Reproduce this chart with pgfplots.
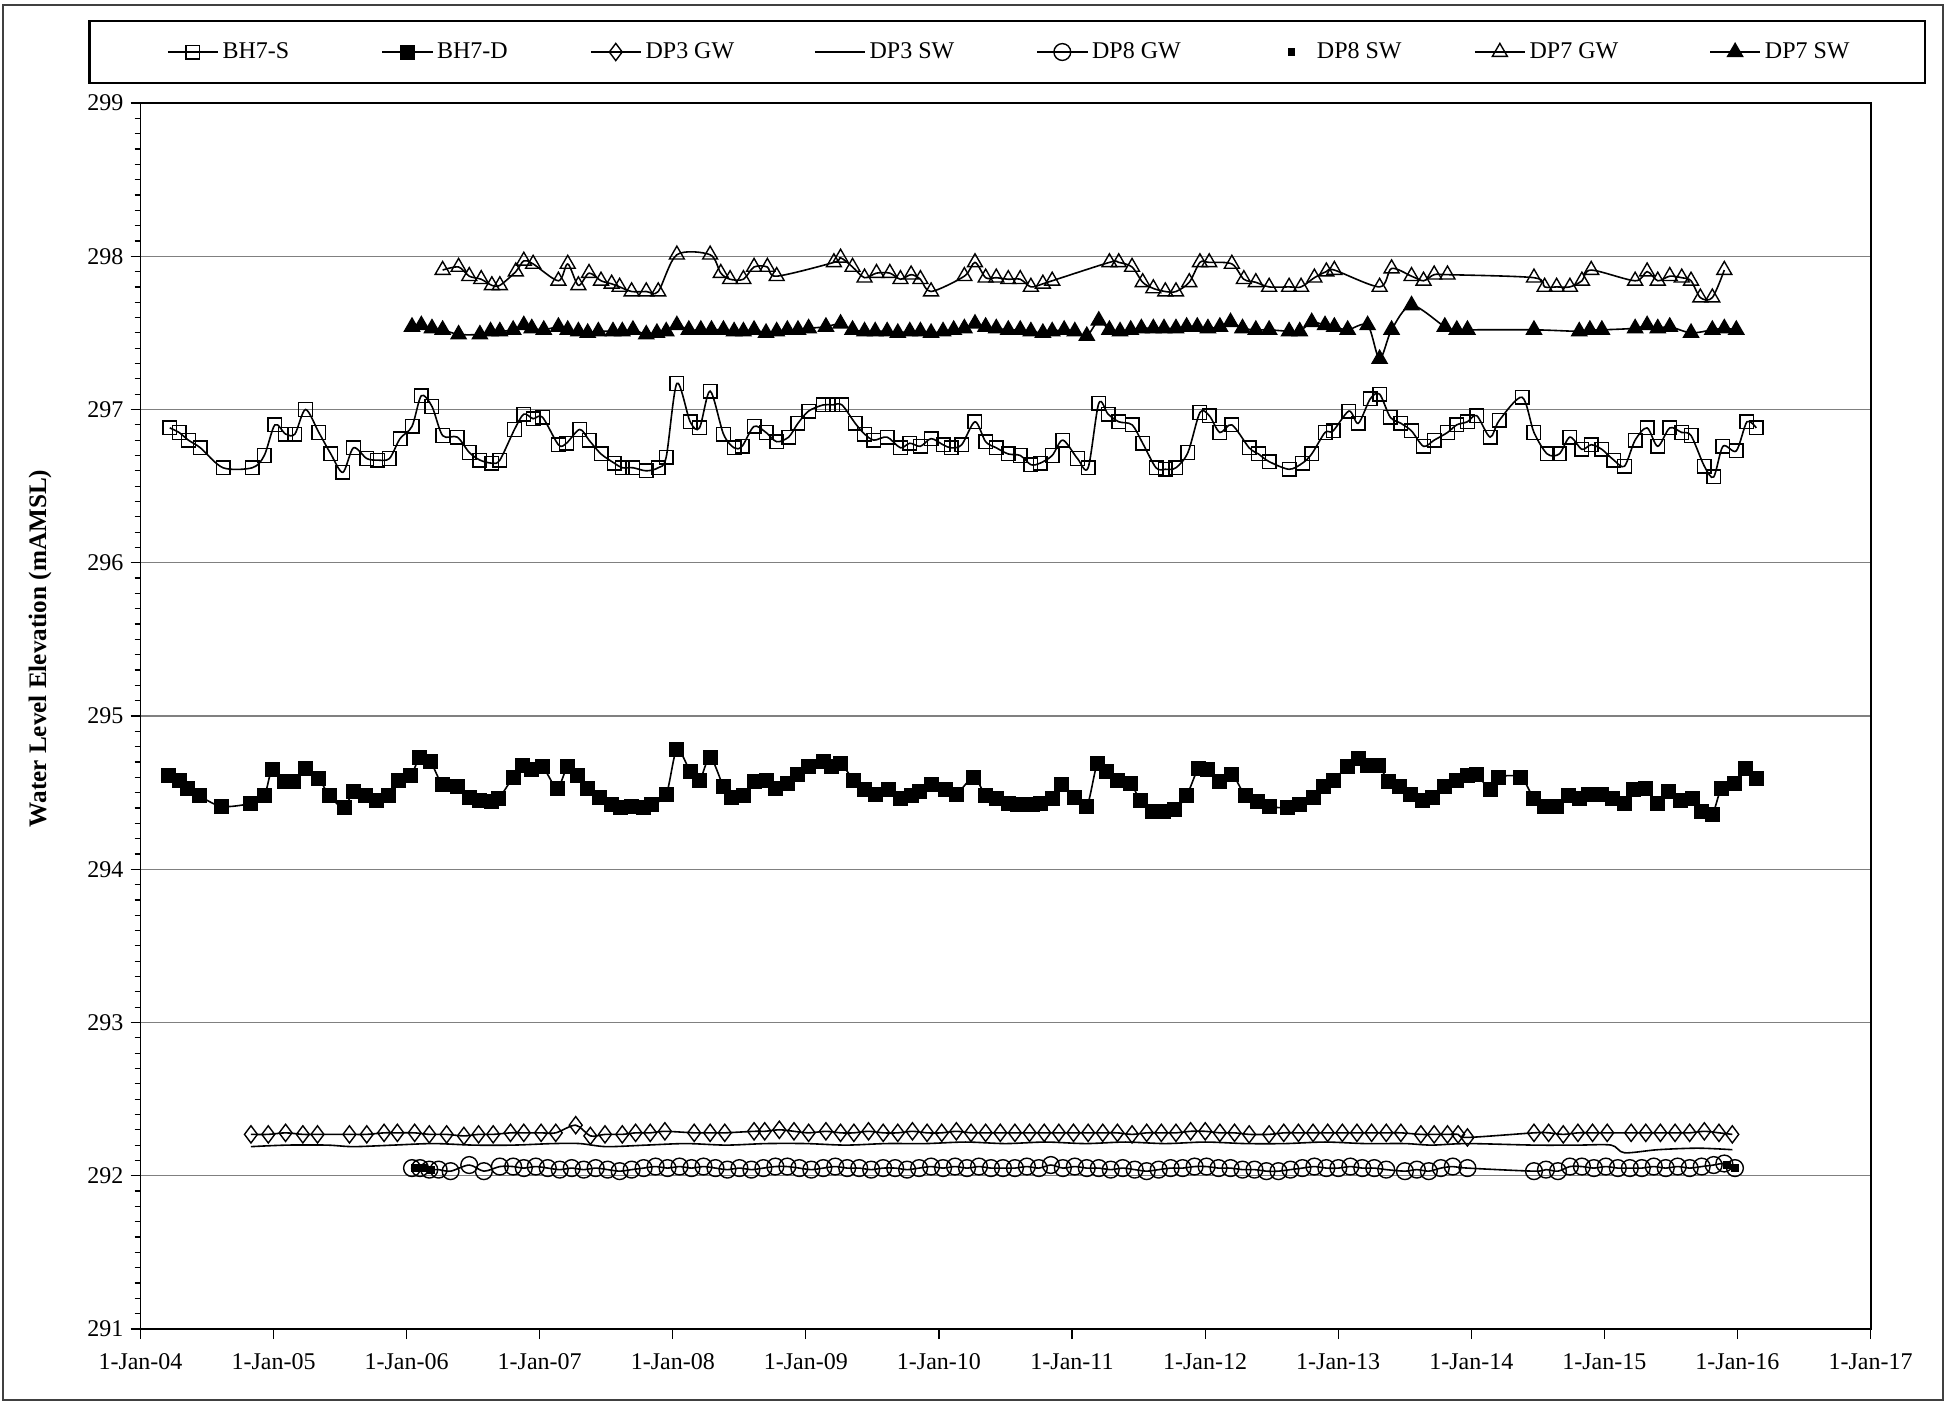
\documentclass[border=0pt]{standalone}
\usepackage{pgfplots}
\pgfplotsset{compat=1.18}
\usepackage{fontspec}
\setmainfont{Liberation Serif}
\pgfplotsset{dotlegend/.style={legend image code/.code={\path[draw=none] (0pt,0pt) -- (22.5pt,0pt); \draw[##1] plot coordinates {(11.8pt,0pt)};}}}
\begin{document}
\begin{tikzpicture}[font=\fontsize{12}{14}\selectfont]
\useasboundingbox (0,0) rectangle (974.5pt,702.5pt);
\draw[line width=0.8pt, black!75] (1.5pt,2.5pt) rectangle (971.5pt,700pt);
\draw[line width=1.4pt] (44.75pt,661pt) rectangle (962.5pt,692pt);
\begin{axis}[
  at={(70.25pt,38pt)}, anchor=south west,
  scale only axis, width=865.1pt, height=613pt,
  xmin=2004, xmax=2017, ymin=291, ymax=299,
  xtick={2004,...,2017},
  xticklabels={1-Jan-04,1-Jan-05,1-Jan-06,1-Jan-07,1-Jan-08,1-Jan-09,1-Jan-10,1-Jan-11,1-Jan-12,1-Jan-13,1-Jan-14,1-Jan-15,1-Jan-16,1-Jan-17},
  xticklabel style={yshift=-3.7pt},
  minor x tick num=11,
  ytick={291,...,299},
  minor y tick num=9,
  xtick pos=left, ytick pos=left,
  tick align=outside,
  major tick length=5pt, minor tick length=3pt,
  tick style={black, line width=0.6pt},
  ymajorgrids, grid style={gray, line width=0.6pt},
  axis line style={line width=0.8pt},
  /pgf/number format/assume math mode=true,
  /pgf/number format/1000 sep={},
  ylabel={\fontsize{12.6}{14}\selectfont\bfseries Water Level Elevation (mAMSL)},
  ylabel style={at={(axis description cs:-0.0581,0.555)}, anchor=center},
  legend columns=8,
  legend style={at={(0.0151,1.0416)}, anchor=west, draw=none, fill=none,
    inner xsep=0pt, /tikz/every even column/.append style={column sep=41pt}},
  legend image code/.code={\draw[mark repeat=2,mark phase=2,#1] plot coordinates {(0pt,0pt) (12.5pt,0pt) (25pt,0pt)};},
  every axis plot/.append style={black, line width=0.8pt, mark options={solid, line width=0.7pt}},
]
% BH7-S
\addplot[smooth, tension=0.5, mark=square, mark size=3.4pt] table {
2004.22 296.88
2004.29 296.85
2004.36 296.80
2004.45 296.75
2004.62 296.62
2004.84 296.62
2004.93 296.70
2005.01 296.90
2005.09 296.84
2005.16 296.84
2005.24 297.00
2005.34 296.85
2005.43 296.71
2005.52 296.59
2005.60 296.75
2005.70 296.68
2005.78 296.67
2005.87 296.68
2005.95 296.81
2006.04 296.89
2006.11 297.09
2006.19 297.02
2006.27 296.83
2006.38 296.82
2006.47 296.72
2006.55 296.67
2006.64 296.65
2006.70 296.67
2006.81 296.87
2006.88 296.97
2006.95 296.94
2007.02 296.95
2007.14 296.77
2007.20 296.78
2007.30 296.87
2007.37 296.80
2007.46 296.71
2007.56 296.65
2007.62 296.62
2007.70 296.62
2007.80 296.60
2007.89 296.62
2007.95 296.69
2008.03 297.17
2008.13 296.92
2008.20 296.88
2008.28 297.12
2008.38 296.84
2008.46 296.75
2008.52 296.76
2008.61 296.89
2008.70 296.85
2008.78 296.79
2008.87 296.82
2008.94 296.91
2009.02 296.99
2009.13 297.03
2009.20 297.03
2009.27 297.03
2009.37 296.91
2009.44 296.84
2009.51 296.80
2009.61 296.82
2009.71 296.75
2009.78 296.78
2009.86 296.76
2009.94 296.81
2010.03 296.77
2010.09 296.75
2010.17 296.77
2010.27 296.92
2010.35 296.79
2010.43 296.75
2010.52 296.71
2010.61 296.70
2010.69 296.64
2010.76 296.65
2010.85 296.70
2010.93 296.80
2011.04 296.68
2011.12 296.62
2011.20 297.04
2011.27 296.97
2011.35 296.92
2011.45 296.90
2011.53 296.78
2011.63 296.62
2011.70 296.61
2011.78 296.62
2011.87 296.72
2011.96 296.98
2012.03 296.96
2012.11 296.85
2012.20 296.90
2012.33 296.75
2012.40 296.71
2012.48 296.66
2012.63 296.61
2012.73 296.65
2012.80 296.71
2012.90 296.85
2012.96 296.86
2013.08 296.99
2013.15 296.91
2013.24 297.07
2013.31 297.10
2013.39 296.95
2013.47 296.91
2013.55 296.86
2013.64 296.76
2013.72 296.80
2013.82 296.85
2013.89 296.90
2013.97 296.92
2014.04 296.96
2014.14 296.82
2014.21 296.93
2014.38 297.08
2014.47 296.85
2014.57 296.71
2014.66 296.71
2014.74 296.82
2014.83 296.74
2014.90 296.77
2014.98 296.74
2015.07 296.67
2015.15 296.63
2015.23 296.80
2015.32 296.88
2015.40 296.76
2015.49 296.88
2015.58 296.85
2015.65 296.83
2015.75 296.63
2015.82 296.56
2015.89 296.76
2015.99 296.73
2016.07 296.92
2016.14 296.88
};
\addlegendentry{BH7-S\kern3.1pt}
% BH7-D
\addplot[smooth, tension=0.5, mark=square*, mark size=3.4pt] table {
2004.21 294.61
2004.29 294.58
2004.35 294.53
2004.44 294.48
2004.61 294.41
2004.83 294.43
2004.93 294.48
2004.99 294.65
2005.08 294.57
2005.15 294.57
2005.24 294.66
2005.34 294.59
2005.42 294.48
2005.53 294.40
2005.60 294.51
2005.69 294.48
2005.77 294.45
2005.86 294.48
2005.94 294.58
2006.03 294.61
2006.10 294.73
2006.18 294.70
2006.27 294.55
2006.38 294.54
2006.47 294.47
2006.55 294.45
2006.64 294.44
2006.69 294.46
2006.80 294.60
2006.87 294.68
2006.94 294.65
2007.02 294.67
2007.13 294.53
2007.21 294.67
2007.28 294.61
2007.36 294.53
2007.45 294.47
2007.54 294.42
2007.61 294.40
2007.69 294.41
2007.78 294.40
2007.84 294.42
2007.95 294.49
2008.03 294.78
2008.13 294.64
2008.20 294.58
2008.28 294.73
2008.38 294.54
2008.44 294.47
2008.53 294.48
2008.61 294.57
2008.70 294.58
2008.77 294.53
2008.86 294.56
2008.94 294.62
2009.02 294.67
2009.13 294.70
2009.19 294.67
2009.26 294.69
2009.36 294.58
2009.44 294.52
2009.52 294.49
2009.62 294.52
2009.71 294.46
2009.79 294.48
2009.85 294.51
2009.94 294.55
2010.05 294.52
2010.13 294.49
2010.26 294.60
2010.35 294.48
2010.43 294.46
2010.52 294.43
2010.59 294.42
2010.70 294.42
2010.76 294.43
2010.85 294.46
2010.92 294.55
2011.02 294.47
2011.11 294.41
2011.19 294.69
2011.26 294.64
2011.34 294.58
2011.44 294.56
2011.51 294.45
2011.60 294.38
2011.69 294.38
2011.77 294.39
2011.86 294.48
2011.95 294.66
2012.02 294.65
2012.11 294.57
2012.20 294.62
2012.30 294.48
2012.39 294.44
2012.48 294.41
2012.62 294.40
2012.71 294.42
2012.81 294.47
2012.89 294.54
2012.96 294.58
2013.07 294.67
2013.15 294.72
2013.22 294.68
2013.30 294.68
2013.38 294.57
2013.46 294.54
2013.54 294.49
2013.63 294.45
2013.71 294.47
2013.80 294.54
2013.89 294.58
2013.97 294.61
2014.04 294.62
2014.14 294.52
2014.20 294.60
2014.37 294.60
2014.47 294.46
2014.55 294.41
2014.64 294.41
2014.73 294.48
2014.81 294.46
2014.88 294.49
2014.98 294.49
2015.06 294.46
2015.15 294.43
2015.22 294.52
2015.31 294.53
2015.40 294.43
2015.48 294.51
2015.57 294.45
2015.66 294.46
2015.73 294.38
2015.81 294.36
2015.88 294.53
2015.98 294.56
2016.06 294.66
2016.14 294.59
};
\addlegendentry{BH7-D\kern-1.9pt}
% DP3 GW
\addplot[smooth, tension=0.5, mark=diamond, mark size=4.3pt] table {
2004.83 292.27
2004.96 292.27
2005.09 292.28
2005.22 292.27
2005.33 292.27
2005.57 292.27
2005.70 292.27
2005.83 292.28
2005.93 292.28
2006.06 292.28
2006.17 292.27
2006.30 292.27
2006.43 292.26
2006.54 292.27
2006.65 292.27
2006.78 292.28
2006.88 292.28
2007.01 292.28
2007.12 292.28
2007.27 292.33
2007.38 292.26
2007.49 292.27
2007.62 292.27
2007.72 292.28
2007.83 292.28
2007.94 292.29
2008.16 292.28
2008.28 292.28
2008.39 292.28
2008.61 292.29
2008.69 292.29
2008.80 292.30
2008.91 292.29
2009.02 292.28
2009.15 292.29
2009.26 292.28
2009.36 292.28
2009.47 292.29
2009.58 292.28
2009.69 292.28
2009.80 292.29
2009.91 292.28
2010.02 292.28
2010.13 292.29
2010.24 292.28
2010.35 292.28
2010.46 292.28
2010.57 292.28
2010.68 292.28
2010.79 292.28
2010.90 292.28
2011.01 292.28
2011.12 292.28
2011.23 292.28
2011.34 292.28
2011.45 292.27
2011.56 292.28
2011.67 292.28
2011.78 292.28
2011.89 292.29
2012.00 292.29
2012.11 292.28
2012.22 292.28
2012.33 292.27
2012.48 292.27
2012.59 292.28
2012.70 292.28
2012.81 292.28
2012.92 292.28
2013.03 292.28
2013.14 292.28
2013.25 292.28
2013.36 292.28
2013.47 292.28
2013.62 292.27
2013.72 292.27
2013.82 292.27
2013.90 292.27
2013.97 292.25
2014.47 292.28
2014.58 292.28
2014.69 292.27
2014.80 292.28
2014.91 292.28
2015.02 292.28
2015.20 292.28
2015.31 292.28
2015.42 292.28
2015.53 292.28
2015.64 292.28
2015.75 292.29
2015.86 292.28
2015.96 292.27
};
\addlegendentry{DP3 GW\kern-3.1pt}
% DP3 SW
\addplot[smooth, tension=0.5, no marks] table {
2004.83 292.19
2005.10 292.20
2005.40 292.20
2005.60 292.19
2005.90 292.20
2006.20 292.21
2006.50 292.20
2006.80 292.20
2007.10 292.21
2007.30 292.21
2007.50 292.19
2007.80 292.20
2008.10 292.21
2008.40 292.20
2008.70 292.21
2009.00 292.21
2009.30 292.20
2009.60 292.21
2009.90 292.21
2010.20 292.22
2010.50 292.21
2010.80 292.22
2011.10 292.21
2011.40 292.22
2011.70 292.21
2012.00 292.22
2012.30 292.21
2012.60 292.21
2012.90 292.22
2013.20 292.21
2013.50 292.21
2013.70 292.20
2013.97 292.21
2014.47 292.20
2014.80 292.20
2015.05 292.20
2015.15 292.15
2015.40 292.17
2015.70 292.18
2015.96 292.17
};
\addlegendentry{DP3 SW\kern-1.9pt}
% DP8 GW
\addplot[smooth, tension=0.5, mark=o, mark size=4.2pt] table {
2006.04 292.05
2006.10 292.05
2006.17 292.04
2006.24 292.04
2006.33 292.03
2006.47 292.07
2006.58 292.03
2006.70 292.06
2006.80 292.06
2006.88 292.05
2006.97 292.06
2007.06 292.05
2007.15 292.04
2007.24 292.05
2007.33 292.04
2007.42 292.05
2007.51 292.04
2007.60 292.03
2007.69 292.04
2007.78 292.05
2007.87 292.06
2007.96 292.05
2008.05 292.06
2008.14 292.05
2008.23 292.06
2008.32 292.05
2008.41 292.04
2008.50 292.05
2008.59 292.04
2008.68 292.05
2008.77 292.06
2008.86 292.06
2008.95 292.05
2009.04 292.04
2009.13 292.05
2009.22 292.06
2009.31 292.05
2009.40 292.05
2009.49 292.04
2009.58 292.05
2009.67 292.05
2009.76 292.04
2009.85 292.05
2009.94 292.06
2010.03 292.05
2010.12 292.06
2010.21 292.05
2010.30 292.06
2010.39 292.05
2010.48 292.05
2010.57 292.05
2010.66 292.06
2010.75 292.05
2010.84 292.07
2010.93 292.05
2011.02 292.06
2011.11 292.05
2011.20 292.05
2011.29 292.04
2011.38 292.05
2011.47 292.04
2011.56 292.03
2011.65 292.04
2011.74 292.05
2011.83 292.05
2011.92 292.06
2012.01 292.06
2012.10 292.05
2012.19 292.05
2012.28 292.04
2012.37 292.04
2012.46 292.03
2012.55 292.03
2012.64 292.04
2012.73 292.05
2012.82 292.06
2012.91 292.05
2013.00 292.05
2013.09 292.06
2013.18 292.05
2013.27 292.05
2013.36 292.04
2013.50 292.03
2013.59 292.04
2013.68 292.03
2013.77 292.05
2013.86 292.06
2013.97 292.05
2014.47 292.03
2014.56 292.04
2014.65 292.03
2014.74 292.06
2014.83 292.06
2014.92 292.05
2015.01 292.06
2015.10 292.05
2015.19 292.05
2015.28 292.05
2015.37 292.06
2015.46 292.05
2015.55 292.06
2015.64 292.05
2015.73 292.06
2015.82 292.07
2015.90 292.08
2015.98 292.05
};
\addlegendentry{DP8 GW\kern0.6pt}
% DP8 SW
\addplot[only marks, mark=square*, mark size=1.6pt, dotlegend] table {
2006.06 292.05
2006.12 292.05
2006.18 292.04
2015.92 292.07
2015.98 292.05
};
\addlegendentry{DP8 SW\kern-6.8pt}
% DP7 GW
\addplot[smooth, tension=0.5, mark=triangle, mark size=4.3pt] table {
2006.27 297.91
2006.39 297.93
2006.47 297.87
2006.56 297.85
2006.64 297.81
2006.70 297.81
2006.82 297.90
2006.88 297.97
2006.95 297.95
2007.14 297.84
2007.21 297.95
2007.29 297.81
2007.37 297.89
2007.46 297.84
2007.54 297.82
2007.60 297.80
2007.69 297.77
2007.80 297.77
2007.89 297.77
2008.03 298.01
2008.28 298.01
2008.36 297.89
2008.43 297.85
2008.53 297.85
2008.61 297.93
2008.71 297.93
2008.78 297.87
2009.21 297.96
2009.26 297.99
2009.35 297.93
2009.44 297.86
2009.53 297.89
2009.63 297.89
2009.71 297.85
2009.79 297.88
2009.86 297.85
2009.94 297.77
2010.19 297.87
2010.27 297.96
2010.35 297.86
2010.43 297.86
2010.52 297.85
2010.61 297.85
2010.69 297.80
2010.78 297.82
2010.85 297.84
2011.28 297.96
2011.35 297.96
2011.45 297.93
2011.53 297.83
2011.61 297.79
2011.70 297.77
2011.78 297.77
2011.88 297.83
2011.96 297.96
2012.03 297.96
2012.20 297.95
2012.29 297.85
2012.38 297.83
2012.48 297.80
2012.63 297.80
2012.72 297.80
2012.82 297.86
2012.91 297.90
2012.97 297.91
2013.31 297.80
2013.40 297.92
2013.55 297.87
2013.64 297.84
2013.72 297.88
2013.82 297.88
2014.47 297.86
2014.55 297.80
2014.64 297.80
2014.74 297.80
2014.83 297.84
2014.90 297.91
2015.23 297.84
2015.32 297.90
2015.40 297.84
2015.49 297.87
2015.58 297.86
2015.65 297.84
2015.72 297.73
2015.81 297.73
2015.90 297.91
};
\addlegendentry{DP7 GW\kern2.5pt}
% DP7 SW
\addplot[smooth, tension=0.5, mark=triangle*, mark size=4.3pt] table {
2006.04 297.54
2006.11 297.55
2006.19 297.53
2006.27 297.52
2006.39 297.49
2006.55 297.49
2006.63 297.51
2006.70 297.51
2006.80 297.52
2006.88 297.55
2006.94 297.53
2007.03 297.52
2007.14 297.54
2007.21 297.52
2007.29 297.51
2007.36 297.50
2007.44 297.51
2007.55 297.51
2007.62 297.51
2007.70 297.52
2007.80 297.49
2007.88 297.50
2007.95 297.51
2008.03 297.55
2008.12 297.52
2008.21 297.52
2008.29 297.52
2008.38 297.52
2008.46 297.51
2008.53 297.51
2008.61 297.52
2008.70 297.50
2008.78 297.51
2008.86 297.52
2008.94 297.52
2009.02 297.53
2009.15 297.54
2009.26 297.56
2009.35 297.52
2009.44 297.51
2009.52 297.51
2009.61 297.51
2009.69 297.50
2009.78 297.51
2009.86 297.51
2009.94 297.50
2010.03 297.51
2010.11 297.52
2010.19 297.53
2010.27 297.56
2010.35 297.54
2010.43 297.53
2010.52 297.52
2010.61 297.52
2010.69 297.51
2010.78 297.50
2010.85 297.51
2010.94 297.52
2011.02 297.51
2011.11 297.48
2011.20 297.58
2011.28 297.52
2011.36 297.51
2011.44 297.52
2011.52 297.53
2011.61 297.53
2011.69 297.53
2011.78 297.53
2011.86 297.54
2011.94 297.54
2012.02 297.53
2012.11 297.54
2012.19 297.57
2012.28 297.53
2012.38 297.52
2012.48 297.52
2012.63 297.51
2012.71 297.51
2012.80 297.57
2012.90 297.55
2012.97 297.54
2013.07 297.52
2013.22 297.55
2013.31 297.33
2013.40 297.52
2013.55 297.68
2013.80 297.54
2013.89 297.52
2013.97 297.52
2014.47 297.52
2014.81 297.51
2014.89 297.52
2014.98 297.52
2015.23 297.53
2015.32 297.55
2015.40 297.53
2015.49 297.54
2015.65 297.50
2015.81 297.52
2015.90 297.53
2015.99 297.52
};
\addlegendentry{DP7 SW}
\end{axis}
\end{tikzpicture}
\end{document}
